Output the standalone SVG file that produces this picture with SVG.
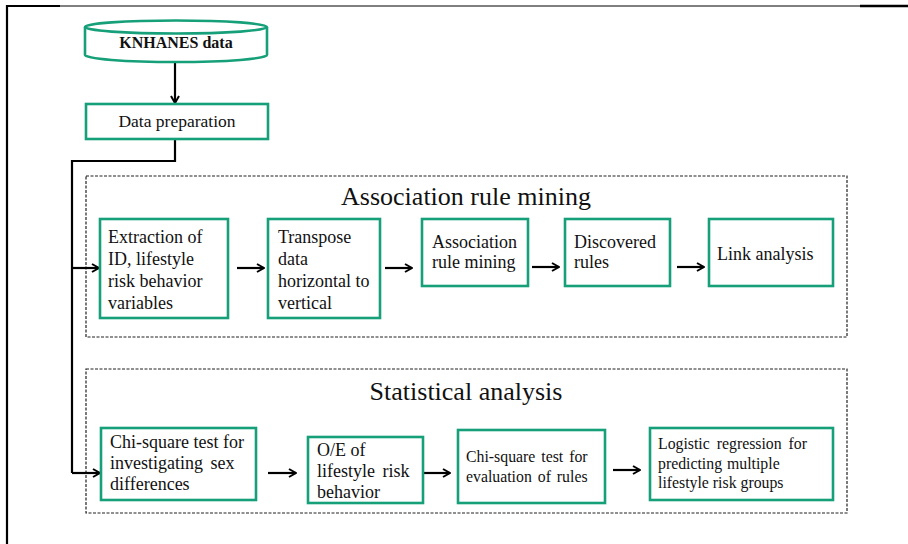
<svg xmlns="http://www.w3.org/2000/svg" width="908" height="544" viewBox="0 0 908 544">
  <style>
    .box { fill: #ffffff; stroke: #16a07a; stroke-width: 2.6; }
    .frame { fill: none; stroke: #222222; stroke-width: 1.2; stroke-dasharray: 3 1.5; }
    .t { font-family: "Liberation Serif", "Times New Roman", serif; fill: #111111; }
    .big { font-size: 26px; }
    .n18 { font-size: 18px; }
    .n16 { font-size: 15.8px; }
    .edge { fill: none; stroke: #000000; stroke-width: 2.2; }
  </style>
  <defs>
    <marker id="arrow" viewBox="0 0 10 10" refX="9" refY="5" markerWidth="10" markerHeight="10" markerUnits="userSpaceOnUse" orient="auto">
      <polyline points="2,1 9,5 2,9" fill="none" stroke="#000000" stroke-width="2"/>
    </marker>
  </defs>

  <!-- page border -->
  <g id="border">
    <line x1="6" y1="6" x2="860" y2="6" stroke="#000" stroke-width="1"/>
    <line x1="6" y1="6" x2="60" y2="6" stroke="#000" stroke-width="2.2"/>
    <line x1="860" y1="6" x2="908" y2="6" stroke="#000" stroke-width="2.4"/>
    <line x1="7" y1="5" x2="7" y2="544" stroke="#000" stroke-width="2.2"/>
  </g>

  <!-- section frames -->
  <g id="assoc-frame">
    <rect class="frame" x="86" y="176" width="761" height="161"/>
    <text class="t big" x="466" y="205" text-anchor="middle">Association rule mining</text>
  </g>
  <g id="stat-frame">
    <rect class="frame" x="86" y="369" width="761" height="144"/>
    <text class="t big" x="466" y="400" text-anchor="middle">Statistical analysis</text>
  </g>

  <!-- connectors -->
  <g id="connectors">
    <line class="edge" x1="175" y1="62" x2="175" y2="103" marker-end="url(#arrow)"/>
    <polyline class="edge" points="175,140 175,161 72,161 72,473"/>
    <line class="edge" x1="72" y1="268" x2="99" y2="268" marker-end="url(#arrow)"/>
    <line class="edge" x1="72" y1="473" x2="100" y2="473" marker-end="url(#arrow)"/>
    <line class="edge" x1="237" y1="268" x2="264" y2="268" marker-end="url(#arrow)"/>
    <line class="edge" x1="385" y1="268" x2="412" y2="268" marker-end="url(#arrow)"/>
    <line class="edge" x1="532" y1="267" x2="559" y2="267" marker-end="url(#arrow)"/>
    <line class="edge" x1="677" y1="267" x2="704" y2="267" marker-end="url(#arrow)"/>
    <line class="edge" x1="268" y1="473" x2="296" y2="473" marker-end="url(#arrow)"/>
    <line class="edge" x1="423" y1="473" x2="450" y2="473" marker-end="url(#arrow)"/>
    <line class="edge" x1="613" y1="470" x2="640" y2="470" marker-end="url(#arrow)"/>
  </g>

  <!-- source database -->
  <g id="knhanes">
    <path class="box" d="M85,27 L85,55 A91,7 0 0 0 267,55 L267,27"/>
    <ellipse class="box" cx="176" cy="27" rx="91" ry="6.5"/>
    <text class="t" x="176" y="48" text-anchor="middle" font-size="16" font-weight="bold">KNHANES data</text>
  </g>

  <g id="prep">
    <rect class="box" x="86" y="104" width="182" height="35"/>
    <text class="t" x="177" y="127" text-anchor="middle" font-size="17.5">Data preparation</text>
  </g>

  <!-- association rule mining steps -->
  <g id="extract">
    <rect class="box" x="100" y="219" width="128" height="99"/>
    <text class="t n18" x="108" y="243">Extraction of</text>
    <text class="t n18" x="108" y="265">ID, lifestyle</text>
    <text class="t n18" x="108" y="287">risk behavior</text>
    <text class="t n18" x="108" y="309">variables</text>
  </g>
  <g id="transpose">
    <rect class="box" x="268" y="219" width="112" height="99"/>
    <text class="t n18" x="278" y="243">Transpose</text>
    <text class="t n18" x="278" y="265">data</text>
    <text class="t n18" x="278" y="287">horizontal to</text>
    <text class="t n18" x="278" y="309">vertical</text>
  </g>
  <g id="arm">
    <rect class="box" x="422" y="219" width="106" height="67"/>
    <text class="t n18" x="432" y="248">Association</text>
    <text class="t n18" x="432" y="268">rule mining</text>
  </g>
  <g id="rules">
    <rect class="box" x="565" y="219" width="105" height="67"/>
    <text class="t n18" x="574" y="248">Discovered</text>
    <text class="t n18" x="574" y="268">rules</text>
  </g>
  <g id="link">
    <rect class="box" x="709" y="219" width="124" height="67"/>
    <text class="t n18" x="717" y="260">Link analysis</text>
  </g>

  <!-- statistical analysis steps -->
  <g id="chisq-sex">
    <rect class="box" x="101" y="428" width="155" height="72"/>
    <text class="t n18" x="110" y="448">Chi-square test for</text>
    <text class="t n18" x="110" y="469" word-spacing="3">investigating sex</text>
    <text class="t n18" x="110" y="490">differences</text>
  </g>
  <g id="oe">
    <rect class="box" x="308" y="437" width="115" height="66"/>
    <text class="t n18" x="317" y="456">O/E of</text>
    <text class="t n18" x="317" y="477" word-spacing="3">lifestyle risk</text>
    <text class="t n18" x="317" y="498">behavior</text>
  </g>
  <g id="chisq-rules">
    <rect class="box" x="458" y="430" width="147" height="73"/>
    <text class="t n16" x="466" y="462" word-spacing="2">Chi-square test for</text>
    <text class="t n16" x="466" y="482" word-spacing="2">evaluation of rules</text>
  </g>
  <g id="logistic">
    <rect class="box" x="650" y="428" width="183" height="72"/>
    <text class="t n16" x="658" y="449" word-spacing="3">Logistic regression for</text>
    <text class="t n16" x="658" y="469" word-spacing="1">predicting multiple</text>
    <text class="t n16" x="658" y="488">lifestyle risk groups</text>
  </g>
</svg>
